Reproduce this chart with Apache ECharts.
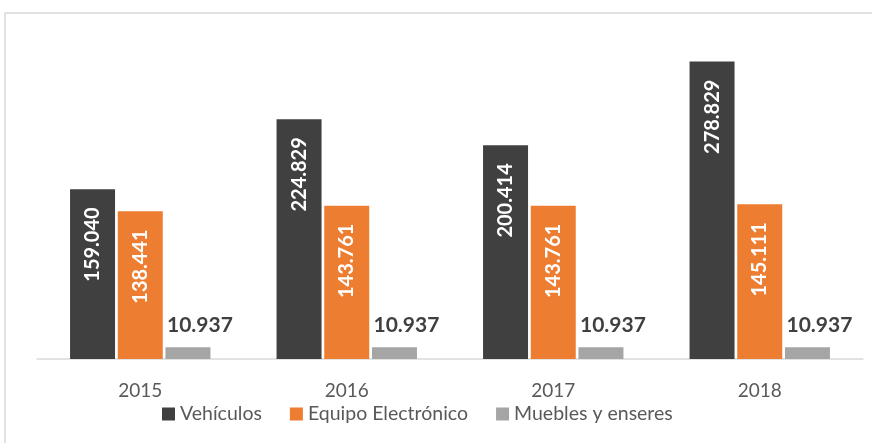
<!DOCTYPE html>
<html>
<head>
<meta charset="utf-8">
<script src="https://cdn.jsdelivr.net/npm/echarts@6/dist/echarts.min.js"></script>
<style>
  html, body { margin: 0; padding: 0; background: #fff; }
  #chart { width: 872px; height: 443px; }
</style>
</head>
<body>
<div id="chart"></div>
<script>
// Years on the category axis
const years = ['2015', '2016', '2017', '2018'];

// Asset values per year (thousands, Spanish decimal notation in labels)
const vehiculos = [159.040, 224.829, 200.414, 278.829];
const equipoElectronico = [138.441, 143.761, 143.761, 145.111];
const mueblesEnseres = [10.937, 10.937, 10.937, 10.937];

const seriesNames = ['Vehículos', 'Equipo Electrónico', 'Muebles y enseres'];

const FONT = 'Lato';

// Format with three decimals and a dot separator, as printed on the bars
const fmt = v => v.toFixed(3);

const chart = echarts.init(document.getElementById('chart'), null, { renderer: 'canvas' });

const insideLabel = {
  show: true,
  position: 'insideTop',
  distance: 18,
  rotate: 90,
  align: 'right',
  verticalAlign: 'middle',
  color: '#ffffff',
  fontFamily: FONT,
  fontWeight: 'bold',
  fontSize: 20,
  formatter: p => fmt(p.value)
};

chart.setOption({
  animation: false,
  graphic: [{
    type: 'rect',
    shape: { x: 5, y: 13, width: 900, height: 460 },
    style: { fill: 'none', stroke: '#D9D9D9', lineWidth: 1.5 },
    silent: true
  }],
  grid: { left: 37, right: 9, top: 39, bottom: 84, containLabel: false },
  legend: {
    data: seriesNames,
    left: 157,
    top: 399,
    itemWidth: 13,
    itemHeight: 13,
    itemGap: 28,
    icon: 'rect',
    textStyle: { color: '#595959', fontFamily: FONT, fontSize: 19.5 }
  },
  xAxis: {
    type: 'category',
    data: years,
    axisLine: { lineStyle: { color: '#D9D9D9', width: 1.5 } },
    axisTick: { show: false },
    axisLabel: { color: '#595959', fontFamily: FONT, fontSize: 19, margin: 22 }
  },
  yAxis: {
    type: 'value',
    min: 0,
    max: 300,
    show: false,
    splitLine: { show: false }
  },
  series: [
    {
      name: seriesNames[0],
      type: 'bar',
      data: vehiculos,
      barWidth: 45,
      barGap: '6%',
      itemStyle: { color: '#404040' },
      label: insideLabel
    },
    {
      name: seriesNames[1],
      type: 'bar',
      data: equipoElectronico,
      barWidth: 45,
      barGap: '6%',
      itemStyle: { color: '#ED7D31' },
      label: insideLabel
    },
    {
      name: seriesNames[2],
      type: 'bar',
      data: mueblesEnseres,
      barWidth: 45,
      barGap: '6%',
      itemStyle: { color: '#A5A5A5' },
      label: {
        show: true,
        position: 'top',
        distance: 12,
        offset: [12, 0],
        color: '#404040',
        fontFamily: FONT,
        fontWeight: 'bold',
        fontSize: 21,
        formatter: p => fmt(p.value)
      }
    }
  ]
});
</script>
</body>
</html>
